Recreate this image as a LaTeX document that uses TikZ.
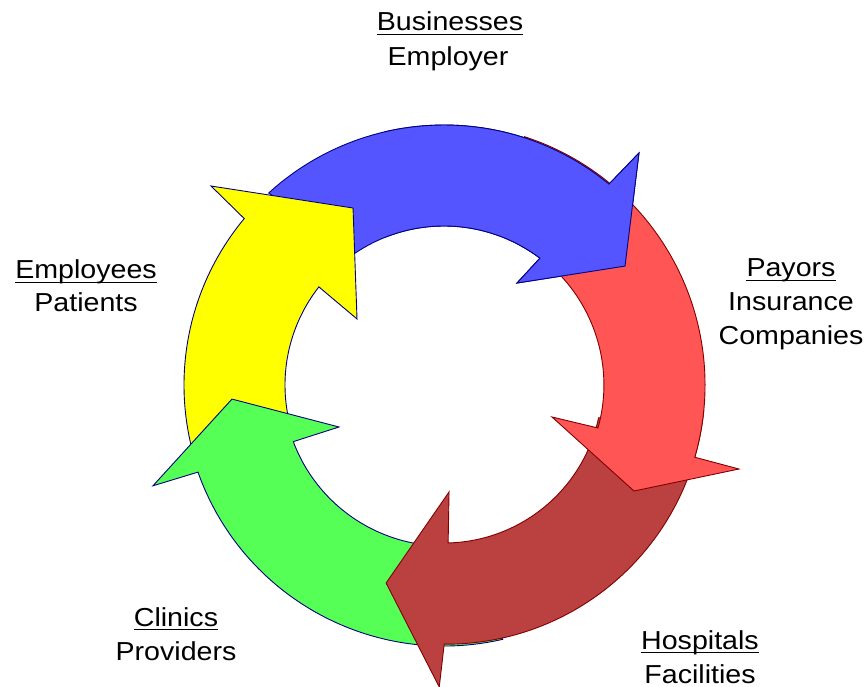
\documentclass[tikz,border=0pt]{standalone}
\usepackage{fontspec}
\setmainfont{Liberation Sans}[FakeStretch=1.1]
\definecolor{cblue}{HTML}{5555FF}
\definecolor{cred}{HTML}{FF5555}
\definecolor{cdred}{HTML}{BB4040}
\definecolor{cgreen}{HTML}{55FF55}
\definecolor{cyellow}{HTML}{FFFF00}
\definecolor{cnavy}{HTML}{000080}
\definecolor{cmaroon}{HTML}{800000}
\begin{document}
\begin{tikzpicture}[x=1pt,y=1pt,
  ringshape/.style={line width=0.9pt, line join=miter},
  bluearrow/.style={ringshape, fill=cblue, draw=cnavy},
  redarrow/.style={ringshape, fill=cred, draw=cmaroon},
  dredarrow/.style={ringshape, fill=cdred, draw=cmaroon},
  greenarrow/.style={ringshape, fill=cgreen, draw=cnavy},
  yellowarrow/.style={ringshape, fill=cyellow, draw=cnavy},
  bluepath/.style={insert path={(132.4:260) arc[start angle=132.4, end angle=50.6, radius=260] -- (49.96:303.1) -- (33.3:216.6) -- (54.4:125.4) -- (52.9:159) arc[start angle=52.9, end angle=124, radius=159] -- cycle}},
  lbl/.style={font=\fontsize{26}{33}\selectfont, anchor=base, inner sep=0pt},
  uline/.style={line width=1.8pt}]
\useasboundingbox (0,0) rectangle (868,-687);
\begin{scope}[shift={(444,-385)}]
  % blue (top)
  \path[bluearrow, bluepath];
  % yellow (left)
  \path[yellowarrow] (198:260) arc[start angle=198, end angle=140.2, radius=260] -- (139.5:306.4) -- (117.2:199) -- (142.8:109.2) -- (141.9:159) arc[start angle=141.9, end angle=191, radius=159] -- cycle;
  % green (bottom left)
  \path[greenarrow] (-77:261) arc[start angle=-77, end angle=-160.5, radius=261] -- (-160.9:308) -- (-176.2:212.5) -- (-158.2:113.1) -- (-159.4:161) arc[start angle=-159.4, end angle=-85, radius=161] -- cycle;
  % dark red (bottom right)
  \path[dredarrow] (-5.5:261) arc[start angle=-5.5, end angle=-90.4, radius=259] -- (-90.9:302) -- (-106.3:206.3) -- (-87.3:107.1) -- (-88.5:158) arc[start angle=-88.5, end angle=-12, radius=158] -- cycle;
  % red (right)
  \path[redarrow] (72:261) arc[start angle=72, end angle=-16.07, radius=261] -- (-15.9:306.7) -- (-29.16:217.6) -- (-16.5:112.6) -- (-15.6:159.9) arc[start angle=-15.6, end angle=62, radius=159.9] -- cycle;
  % blue head again, over the red tail
  \begin{scope}
    \clip (-60,-400) rectangle (420,400);
    \path[bluearrow, bluepath];
  \end{scope}
\end{scope}
% labels
\node[lbl] (biz) at (450,-31) {Businesses};
\node[lbl] (emp) at (448,-66) {Employer};
\node[lbl] (pay) at (791,-277) {Payors};
\node[lbl] (ins) at (791,-311) {Insurance};
\node[lbl] (com) at (791,-344) {Companies};
\node[lbl] (eme) at (86,-279) {Employees};
\node[lbl] (pat) at (86,-312) {Patients};
\node[lbl] (cli) at (176,-626) {Clinics};
\node[lbl] (pro) at (176,-660) {Providers};
\node[lbl] (hos) at (700,-649) {Hospitals};
\node[lbl] (fac) at (700,-683) {Facilities};
\foreach \n in {biz,pay,eme,cli,hos}
  \draw[uline] ([yshift=-3.5]\n.base west) -- ([yshift=-3.5]\n.base east);
\end{tikzpicture}
\end{document}
